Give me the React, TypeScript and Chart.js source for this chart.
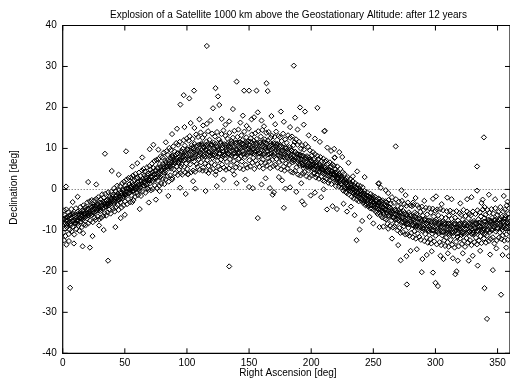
import React, { useEffect, useRef } from "react";
import { Chart, registerables } from "chart.js";
Chart.register(...registerables);

const TITLE = "Explosion of a Satellite 1000 km above the Geostationary Altitude: after 12 years";
const X_TITLE = "Right Ascension [deg]";
const Y_TITLE = "Declination [deg]";
const X_TICKS = [0, 50, 100, 150, 200, 250, 300, 350];
const Y_TICKS = [-40, -30, -20, -10, 0, 10, 20, 30, 40];

type P = [number, number];

const BAND_A: P[] = [
[0.3,-7.2],[0.6,-10.5],[1.0,-5.1],[1.4,-8.6],[1.8,-6.3],[2.2,-11.4],[2.5,-7.5],[2.9,-4.9],[3.3,-9.2],[3.7,-6.8],
[4.1,-8.9],[4.5,-5.6],[4.9,-10.9],[5.3,-7.1],[5.7,-9.8],[6.1,-6.2],[6.5,-8.4],[6.9,-4.8],[7.3,-10.2],[7.7,-7.7],
[8.1,-9.1],[8.5,-5.9],[8.9,-7.4],[9.3,-11.0],[9.7,-6.6],[10.2,-8.2],[10.6,-4.6],[11.0,-9.7],[11.4,-6.9],[11.8,-7.8],
[12.2,-5.4],[12.6,-8.9],[13.0,-6.1],[13.4,-10.1],[13.8,-7.0],[14.2,-4.3],[14.6,-7.8],[15.0,-6.0],[15.4,-9.2],[15.8,-5.2],
[16.2,-7.3],[16.6,-3.9],[17.0,-8.6],[17.4,-5.8],[17.8,-6.9],[18.2,-4.4],[18.6,-8.7],[19.0,-5.5],[19.4,-7.1],[19.8,-3.2],
[20.2,-6.4],[20.6,-8.3],[21.0,-4.8],[21.4,-5.9],[21.8,-2.9],[22.2,-7.6],[22.6,-4.1],[23.0,-6.3],[23.4,-2.6],[23.8,-5.5],
[24.2,-8.0],[24.6,-3.8],[25.0,-5.6],[25.4,-2.7],[25.8,-6.9],[26.2,-4.0],[26.6,-7.4],[27.0,-2.3],[27.4,-5.1],[27.8,-3.6],
[28.2,-6.6],[28.6,-1.9],[29.0,-4.7],[29.4,-7.3],[29.8,-3.2],[30.2,-5.3],[30.6,-2.4],[31.0,-6.9],[31.4,-3.9],[31.8,-1.2],
[32.2,-4.6],[32.6,-6.5],[33.0,-2.0],[33.4,-3.3],[33.8,-5.8],[34.2,-1.1],[34.6,-4.2],[35.0,-6.4],[35.4,-2.8],[35.8,-3.7],
[36.2,-5.6],[36.6,-0.7],[37.0,-3.4],[37.4,-4.9],[37.8,-1.9],[38.2,-3.5],[38.6,-5.9],[39.0,-0.6],[39.4,-2.4],[39.8,-4.4],
[40.2,-1.3],[40.6,-4.8],[41.0,-2.9],[41.4,0.3],[41.8,-5.4],[42.2,-2.6],[42.6,-0.4],[43.0,-4.3],[43.4,-1.6],[43.8,0.9],
[44.2,-3.8],[44.6,-1.1],[45.0,-5.0],[45.4,-0.2],[45.8,-2.5],[46.2,0.8],[46.6,-3.1],[47.0,-1.0],[47.4,-4.4],[47.8,1.5],
[48.2,-2.2],[48.6,-0.1],[49.0,-3.9],[49.4,1.9],[49.8,-1.4],[50.2,-2.9],[50.6,0.9],[51.0,-1.2],[51.4,2.4],[51.8,-3.6],
[52.2,0.2],[52.6,-2.4],[53.0,2.8],[53.4,-0.9],[53.8,1.3],[54.2,-3.1],[54.6,0.6],[55.0,2.9],[55.4,-1.5],[55.8,1.7],
[56.2,-0.4],[56.6,3.4],[57.0,-2.6],[57.4,1.0],[57.8,2.2],[58.2,-1.8],[58.6,3.8],[59.0,0.3],[59.4,2.6],[59.8,-0.8],
];

const BAND_B: P[] = [
[60.2,2.9],[60.6,-1.4],[61.0,1.2],[61.4,4.1],[61.8,-0.3],[62.2,0.4],[62.6,3.3],[63.0,-1.6],[63.4,2.0],[63.8,4.6],
[64.2,-0.5],[64.6,2.6],[65.0,5.0],[65.4,0.9],[65.8,3.4],[66.2,4.3],[66.6,-0.8],[67.0,2.7],[67.4,1.1],[67.8,5.4],
[68.2,0.3],[68.6,3.9],[69.0,-0.1],[69.4,2.2],[69.8,5.7],[70.2,1.5],[70.6,4.8],[71.0,-0.2],[71.4,3.2],[71.8,6.3],
[72.2,2.0],[72.6,0.1],[73.0,5.2],[73.4,3.6],[73.8,6.9],[74.2,1.0],[74.6,4.6],[75.0,2.6],[75.4,7.2],[75.8,0.3],
[76.2,5.3],[76.6,2.1],[77.0,7.4],[77.4,3.8],[77.8,0.9],[78.2,6.2],[78.6,3.0],[79.0,8.1],[79.4,1.4],[79.8,4.9],
[80.2,7.8],[80.6,2.6],[81.0,5.5],[81.4,9.0],[81.8,1.3],[82.2,4.1],[82.6,7.0],[83.0,2.5],[83.4,9.3],[83.8,5.9],
[84.2,3.2],[84.6,8.4],[85.0,5.6],[85.4,1.9],[85.8,10.1],[86.2,6.9],[86.6,3.4],[87.0,9.6],[87.4,5.1],[87.8,8.2],
[88.2,2.8],[88.6,7.8],[89.0,10.5],[89.4,4.9],[89.8,6.6],[90.2,9.2],[90.6,3.9],[91.0,7.0],[91.4,11.3],[91.8,5.6],
[92.2,8.8],[92.6,3.5],[93.0,10.9],[93.4,6.4],[93.8,4.8],[94.2,11.6],[94.6,7.3],[95.0,4.0],[95.4,9.4],[95.8,6.2],
[96.2,3.6],[96.6,9.9],[97.0,7.8],[97.4,12.0],[97.8,5.5],[98.2,10.7],[98.6,4.1],[99.0,8.6],[99.4,6.3],[99.8,12.4],
];

const BAND_C: P[] = [
[100.2,5.0],[100.6,9.8],[101.0,3.7],[101.4,11.9],[101.8,7.2],[102.2,13.0],[102.6,6.1],[103.0,9.4],[103.4,4.2],[103.8,10.8],
[104.2,7.6],[104.6,12.3],[105.0,4.6],[105.4,9.9],[105.8,6.8],[106.2,11.1],[106.6,4.3],[107.0,8.5],[107.4,13.4],[107.8,6.2],
[108.2,9.6],[108.6,5.5],[109.0,12.8],[109.4,7.4],[109.8,10.9],[110.2,4.8],[110.6,8.9],[111.0,13.9],[111.4,6.6],[111.8,11.2],
[112.2,7.9],[112.6,12.6],[113.0,5.3],[113.4,10.2],[113.8,8.4],[114.2,13.3],[114.6,6.4],[115.0,9.6],[115.4,4.5],[115.8,11.7],
[116.2,7.1],[116.6,10.6],[117.0,14.2],[117.4,5.7],[117.8,9.0],[118.2,12.1],[118.6,4.7],[119.0,8.3],[119.4,10.9],[119.8,6.5],
[120.2,13.6],[120.6,7.7],[121.0,5.0],[121.4,11.4],[121.8,9.3],[122.2,6.0],[122.6,12.9],[123.0,8.1],[123.4,4.4],[123.8,10.5],
[124.2,14.0],[124.6,7.0],[125.0,9.9],[125.4,5.6],[125.8,12.2],[126.2,8.6],[126.6,4.9],[127.0,11.6],[127.4,7.3],[127.8,13.5],
[128.2,6.1],[128.6,10.1],[129.0,8.0],[129.4,14.4],[129.8,5.3],[130.2,11.0],[130.6,7.6],[131.0,13.1],[131.4,4.8],[131.8,9.4],
[132.2,6.7],[132.6,12.4],[133.0,8.8],[133.4,10.6],[133.8,5.1],[134.2,13.8],[134.6,7.4],[135.0,10.3],[135.4,5.9],[135.8,11.8],
[136.2,8.2],[136.6,4.6],[137.0,12.6],[137.4,9.5],[137.8,6.9],[138.2,14.3],[138.6,8.0],[139.0,11.2],[139.4,5.4],[139.8,9.7],
[140.2,6.3],[140.6,12.8],[141.0,9.1],[141.4,14.6],[141.8,7.5],[142.2,11.5],[142.6,5.2],[143.0,10.2],[143.4,8.1],[143.8,13.2],
[144.2,6.8],[144.6,12.0],[145.0,9.3],[145.4,4.9],[145.8,11.0],[146.2,14.1],[146.6,7.9],[147.0,10.6],[147.4,6.0],[147.8,12.7],
[148.2,8.4],[148.6,5.3],[149.0,11.7],[149.4,9.8],[149.8,14.8],[150.2,7.1],[150.6,10.9],[151.0,5.6],[151.4,12.5],[151.8,8.9],
[152.2,13.4],[152.6,6.5],[153.0,10.0],[153.4,7.7],[153.8,11.9],[154.2,5.0],[154.6,9.2],[155.0,13.7],[155.4,7.0],[155.8,10.8],
[156.2,12.3],[156.6,6.2],[157.0,9.6],[157.4,14.2],[157.8,8.0],[158.2,5.5],[158.6,11.4],[159.0,8.7],[159.4,12.9],[159.8,6.6],
[160.2,10.4],[160.6,14.5],[161.0,7.3],[161.4,5.1],[161.8,11.6],[162.2,8.5],[162.6,12.2],[163.0,6.4],[163.4,10.1],[163.8,13.8],
[164.2,5.8],[164.6,9.4],[165.0,11.9],[165.4,7.6],[165.8,14.0],[166.2,6.9],[166.6,10.7],[167.0,5.2],[167.4,12.6],[167.8,8.8],
[168.2,13.1],[168.6,7.2],[169.0,9.9],[169.4,5.7],[169.8,11.3],[170.2,8.1],[170.6,12.8],[171.0,6.0],[171.4,10.5],[171.8,14.1],
[172.2,7.4],[172.6,11.1],[173.0,5.3],[173.4,9.2],[173.8,13.0],[174.2,6.7],[174.6,10.6],[175.0,12.7],[175.4,8.0],[175.8,4.9],
[176.2,11.8],[176.6,7.0],[177.0,9.5],[177.4,13.6],[177.8,5.6],[178.2,8.6],[178.6,4.6],[179.0,12.2],[179.4,10.0],[179.8,6.3],
[180.2,11.4],[180.6,7.7],[181.0,5.1],[181.4,13.2],[181.8,9.0],[182.2,6.0],[182.6,10.3],[183.0,12.6],[183.4,7.9],[183.8,4.3],
[184.2,9.5],[184.6,12.9],[185.0,6.6],[185.4,4.1],[185.8,10.8],[186.2,7.3],[186.6,11.6],[187.0,4.5],[187.4,9.1],[187.8,12.2],
[188.2,5.4],[188.6,8.6],[189.0,10.9],[189.4,3.6],[189.8,7.1],[190.2,11.6],[190.6,5.9],[191.0,8.3],[191.4,3.4],[191.8,9.9],
[192.2,6.4],[192.6,10.8],[193.0,3.9],[193.4,8.2],[193.8,5.2],[194.2,9.7],[194.6,4.3],[195.0,7.4],[195.4,11.0],[195.8,5.9],
[196.2,3.2],[196.6,8.1],[197.0,6.0],[197.4,10.4],[197.8,4.6],[198.2,7.8],[198.6,2.9],[199.0,9.5],[199.4,5.5],[199.8,6.9],
];

const BAND_D: P[] = [
[200.2,3.4],[200.6,8.3],[201.0,5.6],[201.4,9.1],[201.8,3.9],[202.2,7.2],[202.6,4.0],[203.0,8.6],[203.4,5.9],[203.8,2.9],
[204.2,6.8],[204.6,3.5],[205.0,8.2],[205.4,5.0],[205.8,7.4],[206.2,2.6],[206.6,6.1],[207.0,4.3],[207.4,7.9],[207.8,5.4],
[208.2,3.1],[208.6,6.9],[209.0,4.9],[209.4,2.2],[209.8,7.5],[210.2,5.6],[210.6,2.0],[211.0,6.8],[211.4,3.9],[211.8,4.8],
[212.2,7.0],[212.6,2.5],[213.0,4.6],[213.4,6.3],[213.8,1.6],[214.2,4.9],[214.6,2.2],[215.0,6.6],[215.4,3.4],[215.8,5.5],
[216.2,1.3],[216.6,4.4],[217.0,6.1],[217.4,2.8],[217.8,3.9],[218.2,5.8],[218.6,1.9],[219.0,3.6],[219.4,5.0],[219.8,0.8],
[220.2,4.2],[220.6,1.7],[221.0,5.6],[221.4,2.6],[221.8,3.5],[222.2,0.7],[222.6,3.8],[223.0,2.0],[223.4,5.0],[223.8,1.3],
[224.2,3.2],[224.6,0.4],[225.0,2.6],[225.4,4.2],[225.8,-0.3],[226.2,2.1],[226.6,3.8],[227.0,0.2],[227.4,1.6],[227.8,-0.6],
[228.2,2.7],[228.6,-0.9],[229.0,1.3],[229.4,3.0],[229.8,0.0],[230.2,-1.2],[230.6,1.8],[231.0,0.3],[231.4,2.5],[231.8,-0.5],
[232.2,1.4],[232.6,-1.8],[233.0,0.4],[233.4,2.0],[233.8,-0.9],[234.2,-2.2],[234.6,0.9],[235.0,-0.6],[235.4,1.5],[235.8,-1.4],
[236.2,0.4],[236.6,-2.5],[237.0,-0.9],[237.4,1.1],[237.8,-1.7],[238.2,-2.9],[238.6,0.2],[239.0,-1.3],[239.4,0.8],[239.8,-2.2],
[240.2,-0.3],[240.6,-2.8],[241.0,-1.2],[241.4,0.5],[241.8,-3.3],[242.2,-1.0],[242.6,-3.1],[243.0,-0.4],[243.4,-2.3],[243.8,-3.9],
[244.2,-1.4],[244.6,-3.6],[245.0,-0.7],[245.4,-2.7],[245.8,-4.1],[246.2,-1.6],[246.6,-3.9],[247.0,-2.2],[247.4,-4.6],[247.8,-1.1],
[248.2,-3.8],[248.6,-2.0],[249.0,-4.7],[249.4,-1.5],[249.8,-3.2],[250.2,-2.1],[250.6,-5.0],[251.0,-3.3],[251.4,-1.8],[251.8,-4.4],
[252.2,-5.5],[252.6,-2.6],[253.0,-4.1],[253.4,-6.0],[253.8,-2.2],[254.2,-3.3],[254.6,-5.7],[255.0,-2.4],[255.4,-4.8],[255.8,-6.3],
[256.2,-3.0],[256.6,-5.2],[257.0,-6.8],[257.4,-2.7],[257.8,-4.5],[258.2,-6.0],[258.6,-3.4],[259.0,-7.1],[259.4,-4.9],[259.8,-2.9],
];

const BAND_E: P[] = [
[260.2,-7.3],[260.6,-3.1],[261.0,-5.6],[261.4,-8.4],[261.8,-4.2],[262.2,-2.6],[262.6,-6.5],[263.0,-4.4],[263.4,-8.9],[263.8,-5.8],
[264.2,-3.5],[264.6,-7.6],[265.0,-1.9],[265.4,-5.2],[265.8,-9.3],[266.2,-6.8],[266.6,-3.3],[267.0,-9.0],[267.4,-5.0],[267.8,-7.4],
[268.2,-2.4],[268.6,-8.3],[269.0,-5.7],[269.4,-10.0],[269.8,-4.1],[270.2,-7.0],[270.6,-3.0],[271.0,-9.4],[271.4,-5.8],[271.8,-10.6],
[272.2,-4.4],[272.6,-8.1],[273.0,-2.8],[273.4,-6.9],[273.8,-10.4],[274.2,-5.3],[274.6,-9.0],[275.0,-3.6],[275.4,-7.6],[275.8,-11.0],
[276.2,-8.5],[276.6,-4.0],[277.0,-6.3],[277.4,-10.9],[277.8,-3.2],[278.2,-9.4],[278.6,-5.6],[279.0,-11.3],[279.4,-7.8],[279.8,-3.9],
[280.2,-6.4],[280.6,-10.6],[281.0,-4.1],[281.4,-8.7],[281.8,-11.7],[282.2,-3.8],[282.6,-7.3],[283.0,-10.2],[283.4,-5.6],[283.8,-9.1],
[284.2,-12.0],[284.6,-6.0],[285.0,-8.8],[285.4,-3.9],[285.8,-10.8],[286.2,-7.1],[286.6,-4.4],[287.0,-11.6],[287.4,-9.0],[287.8,-5.5],
[288.2,-12.3],[288.6,-7.7],[289.0,-4.2],[289.4,-10.1],[289.8,-6.4],[290.2,-9.4],[290.6,-5.0],[291.0,-12.6],[291.4,-7.2],[291.8,-10.9],
[292.2,-4.5],[292.6,-8.3],[293.0,-11.8],[293.4,-6.1],[293.8,-13.0],[294.2,-7.6],[294.6,-10.2],[295.0,-4.6],[295.4,-9.3],[295.8,-12.1],
[296.2,-5.7],[296.6,-13.2],[297.0,-8.0],[297.4,-10.8],[297.8,-4.7],[298.2,-9.9],[298.6,-6.6],[299.0,-12.7],[299.4,-8.2],[299.8,-5.2],
[300.2,-11.3],[300.6,-7.4],[301.0,-13.4],[301.4,-4.9],[301.8,-9.6],[302.2,-6.3],[302.6,-10.7],[303.0,-8.5],[303.4,-12.9],[303.8,-4.8],
[304.2,-9.1],[304.6,-13.6],[305.0,-6.8],[305.4,-11.2],[305.8,-7.9],[306.2,-5.1],[306.6,-10.3],[307.0,-12.4],[307.4,-8.6],[307.8,-13.8],
[308.2,-7.0],[308.6,-11.8],[309.0,-5.3],[309.4,-9.9],[309.8,-12.9],[310.2,-8.3],[310.6,-14.0],[311.0,-6.4],[311.4,-10.9],[311.8,-5.2],
[312.2,-12.3],[312.6,-9.0],[313.0,-7.2],[313.4,-13.5],[313.8,-10.2],[314.2,-5.6],[314.6,-11.4],[315.0,-8.5],[315.4,-14.2],[315.8,-6.9],
[316.2,-10.0],[316.6,-12.8],[317.0,-5.3],[317.4,-9.3],[317.8,-11.6],[318.2,-7.6],[318.6,-13.9],[319.0,-9.7],[319.4,-5.8],[319.8,-12.0],
[320.2,-8.9],[320.6,-6.2],[321.0,-11.1],[321.4,-13.3],[321.8,-7.4],[322.2,-10.4],[322.6,-5.0],[323.0,-12.6],[323.4,-8.1],[323.8,-14.0],
[324.2,-6.5],[324.6,-9.8],[325.0,-11.9],[325.4,-5.4],[325.8,-8.8],[326.2,-13.0],[326.6,-7.1],[327.0,-10.3],[327.4,-5.9],[327.8,-12.4],
[328.2,-9.2],[328.6,-6.3],[329.0,-13.6],[329.4,-8.0],[329.8,-11.0],[330.2,-5.4],[330.6,-10.7],[331.0,-7.7],[331.4,-12.9],[331.8,-9.5],
[332.2,-6.0],[332.6,-11.8],[333.0,-8.4],[333.4,-13.4],[333.8,-5.1],[334.2,-10.1],[334.6,-7.3],[335.0,-12.5],[335.4,-9.0],[335.8,-5.6],
[336.2,-11.4],[336.6,-6.6],[337.0,-13.1],[337.4,-8.3],[337.8,-10.6],[338.2,-4.9],[338.6,-9.7],[339.0,-12.0],[339.4,-7.0],[339.8,-10.9],
[340.2,-6.2],[340.6,-13.0],[341.0,-8.5],[341.4,-11.3],[341.8,-5.0],[342.2,-9.9],[342.6,-7.4],[343.0,-12.6],[343.4,-5.7],[343.8,-10.4],
[344.2,-8.0],[344.6,-12.1],[345.0,-4.8],[345.4,-10.0],[345.8,-6.9],[346.2,-11.7],[346.6,-5.9],[347.0,-9.1],[347.4,-13.2],[347.8,-7.5],
[348.2,-4.6],[348.6,-10.3],[349.0,-8.0],[349.4,-12.4],[349.8,-6.2],[350.2,-9.4],[350.6,-5.5],[351.0,-11.8],[351.4,-7.5],[351.8,-10.5],
[352.2,-4.3],[352.6,-8.8],[353.0,-12.1],[353.4,-6.7],[353.8,-9.9],[354.2,-11.2],[354.6,-5.4],[355.0,-7.9],[355.4,-12.5],[355.8,-4.9],
[356.2,-9.6],[356.6,-6.5],[357.0,-11.0],[357.4,-3.9],[357.8,-8.2],[358.2,-12.3],[358.6,-6.0],[359.0,-9.3],[359.4,-4.6],[359.8,-10.4],
];

const CORE_A: P[] = [
[0.5,-8.9],[1.2,-7.3],[1.9,-8.2],[2.4,-6.9],[3.1,-8.7],[3.8,-7.6],[4.3,-8.3],[5.0,-6.5],[5.6,-7.9],[6.3,-8.8],
[7.0,-7.0],[7.6,-6.1],[8.3,-7.8],[9.0,-6.3],[9.6,-8.3],[10.4,-6.1],[11.1,-7.6],[11.7,-8.4],[12.4,-7.4],[13.1,-5.8],
[13.7,-6.9],[14.4,-5.5],[15.1,-7.2],[15.7,-6.6],[16.4,-6.8],[17.1,-5.3],[17.7,-6.0],[18.4,-6.6],[19.1,-4.9],[19.7,-5.9],
[20.4,-4.7],[21.1,-6.3],[21.7,-5.4],[22.4,-5.9],[23.1,-4.4],[23.7,-5.0],[24.4,-4.2],[25.1,-5.7],[25.7,-4.7],[26.4,-5.4],
[27.1,-3.9],[27.7,-4.8],[28.4,-3.6],[29.1,-5.1],[29.7,-4.2],[30.4,-4.8],[31.1,-3.3],[31.7,-4.1],[32.4,-3.0],[33.1,-4.5],
[33.7,-3.6],[34.4,-4.1],[35.1,-2.7],[35.7,-3.5],[36.4,-2.4],[37.1,-3.9],[37.7,-3.0],[38.4,-3.6],[39.1,-2.1],[39.7,-2.9],
[40.4,-1.8],[41.1,-3.3],[41.7,-2.4],[42.4,-2.9],[43.1,-1.4],[43.7,-2.2],[44.4,-1.0],[45.1,-2.5],[45.7,-1.6],[46.4,-2.1],
[47.1,-0.6],[47.7,-1.4],[48.4,-0.2],[49.1,-1.7],[49.7,-0.8],[50.4,-1.3],[51.1,0.2],[51.7,-0.6],[52.4,0.5],[53.1,-1.0],
[53.7,-0.1],[54.4,-0.7],[55.1,0.8],[55.7,0.2],[56.4,1.1],[57.1,-0.4],[57.7,0.5],[58.4,-0.1],[59.1,1.4],[59.7,0.6],
];

const CORE_B: P[] = [
[60.4,1.8],[61.1,0.2],[61.7,1.1],[62.4,0.6],[63.1,2.2],[63.7,1.3],[64.4,2.6],[65.1,1.0],[65.7,1.9],[66.4,1.4],
[67.1,3.0],[67.7,2.1],[68.4,3.4],[69.1,1.8],[69.7,2.7],[70.4,2.2],[71.1,3.9],[71.7,3.0],[72.4,4.3],[73.1,2.5],
[73.7,3.5],[74.4,2.9],[75.1,4.7],[75.7,3.7],[76.4,5.1],[77.1,3.3],[77.7,4.3],[78.4,3.7],[79.1,5.5],[79.7,4.5],
[80.4,6.1],[81.1,4.1],[81.7,5.2],[82.4,4.6],[83.1,6.6],[83.7,5.5],[84.4,7.1],[85.1,5.1],[85.7,6.2],[86.4,5.6],
[87.1,7.6],[87.7,6.5],[88.4,8.1],[89.1,6.1],[89.7,7.2],[90.4,6.4],[91.1,8.5],[91.7,7.6],[92.4,8.8],[93.1,6.7],
[93.7,7.8],[94.4,6.9],[95.1,9.0],[95.7,7.8],[96.4,9.2],[97.1,7.1],[97.7,8.2],[98.4,7.3],[99.1,9.4],[99.7,8.4],
];

const CORE_C: P[] = [
[100.4,9.7],[101.1,7.3],[101.7,8.6],[102.4,7.5],[103.1,10.0],[103.7,8.8],[104.4,10.2],[105.1,7.6],[105.7,9.0],[106.4,7.9],
[107.1,10.5],[107.7,9.2],[108.4,10.7],[109.1,8.1],[109.7,9.4],[110.4,8.3],[111.1,10.9],[111.7,9.6],[112.4,10.8],[113.1,8.2],
[113.7,9.4],[114.4,8.0],[115.1,10.6],[115.7,9.7],[116.4,11.0],[117.1,8.4],[117.7,9.3],[118.4,8.1],[119.1,10.7],[119.7,9.5],
[120.4,10.9],[121.1,8.3],[121.7,9.8],[122.4,8.6],[123.1,11.1],[123.7,9.4],[124.4,10.4],[125.1,8.0],[125.7,9.6],[126.4,8.8],
[127.1,11.2],[127.7,9.9],[128.4,10.8],[129.1,8.5],[129.7,9.3],[130.4,8.4],[131.1,10.9],[131.7,9.7],[132.4,11.1],[133.1,8.6],
[133.7,9.8],[134.4,8.5],[135.1,11.2],[135.7,10.0],[136.4,11.3],[137.1,8.7],[137.7,10.1],[138.4,8.8],[139.1,11.4],[139.7,9.9],
[140.4,11.4],[141.1,8.8],[141.7,10.2],[142.4,8.9],[143.1,11.5],[143.7,10.0],[144.4,11.2],[145.1,8.6],[145.7,10.3],[146.4,8.7],
[147.1,11.5],[147.7,9.9],[148.4,11.3],[149.1,8.9],[149.7,10.1],[150.4,9.0],[151.1,11.6],[151.7,10.2],[152.4,11.4],[153.1,8.8],
[153.7,9.9],[154.4,8.6],[155.1,11.2],[155.7,10.1],[156.4,11.3],[157.1,8.7],[157.7,10.0],[158.4,8.9],[159.1,11.5],[159.7,9.8],
[160.4,11.1],[161.1,8.6],[161.7,10.2],[162.4,8.8],[163.1,11.4],[163.7,9.9],[164.4,11.2],[165.1,8.5],[165.7,10.1],[166.4,8.7],
[167.1,11.3],[167.7,9.7],[168.4,11.0],[169.1,8.4],[169.7,10.0],[170.4,8.6],[171.1,11.2],[171.7,9.8],[172.4,10.9],[173.1,8.3],
[173.7,9.6],[174.4,8.2],[175.1,10.8],[175.7,9.4],[176.4,10.5],[177.1,8.0],[177.7,9.2],[178.4,7.8],[179.1,10.3],[179.7,9.0],
[180.4,10.1],[181.1,7.6],[181.7,8.8],[182.4,7.4],[183.1,9.8],[183.7,8.5],[184.4,9.5],[185.1,7.1],[185.7,8.2],[186.4,6.9],
[187.1,9.2],[187.7,7.9],[188.4,8.8],[189.1,6.6],[189.7,7.6],[190.4,6.3],[191.1,8.5],[191.7,7.3],[192.4,8.2],[193.1,6.0],
[193.7,7.0],[194.4,5.8],[195.1,7.9],[195.7,6.7],[196.4,7.6],[197.1,5.5],[197.7,6.4],[198.4,5.2],[199.1,7.3],[199.7,6.1],
];

const CORE_D: P[] = [
[200.4,6.9],[201.1,5.2],[201.7,6.0],[202.4,4.9],[203.1,6.5],[203.7,5.6],[204.4,6.2],[205.1,4.6],[205.7,5.4],[206.4,4.3],
[207.1,5.9],[207.7,5.0],[208.4,5.6],[209.1,4.0],[209.7,4.8],[210.4,3.7],[211.1,5.3],[211.7,4.4],[212.4,5.0],[213.1,3.4],
[213.7,4.2],[214.4,3.1],[215.1,4.7],[215.7,3.8],[216.4,4.4],[217.1,2.8],[217.7,3.6],[218.4,2.5],[219.1,4.1],[219.7,3.2],
[220.4,3.8],[221.1,2.2],[221.7,2.9],[222.4,1.7],[223.1,3.3],[223.7,2.4],[224.4,2.8],[225.1,1.2],[225.7,1.9],[226.4,0.7],
[227.1,2.3],[227.7,1.4],[228.4,1.8],[229.1,0.2],[229.7,0.9],[230.4,-0.3],[231.1,1.3],[231.7,0.4],[232.4,0.9],[233.1,-0.7],
[233.7,0.0],[234.4,-1.1],[235.1,0.5],[235.7,-0.4],[236.4,0.1],[237.1,-1.5],[237.7,-0.8],[238.4,-1.9],[239.1,-0.3],[239.7,-1.2],
[240.4,-0.7],[241.1,-2.3],[241.7,-1.6],[242.4,-2.7],[243.1,-1.1],[243.7,-2.0],[244.4,-1.5],[245.1,-3.1],[245.7,-2.4],[246.4,-3.5],
[247.1,-1.9],[247.7,-2.8],[248.4,-2.3],[249.1,-3.9],[249.7,-3.2],[250.4,-4.3],[251.1,-2.7],[251.7,-3.6],[252.4,-3.0],[253.1,-4.6],
[253.7,-3.9],[254.4,-4.9],[255.1,-3.3],[255.7,-4.2],[256.4,-3.6],[257.1,-5.2],[257.7,-4.5],[258.4,-5.5],[259.1,-3.9],[259.7,-4.8],
];

const CORE_E: P[] = [
[260.4,-4.1],[261.1,-6.0],[261.7,-5.1],[262.4,-6.3],[263.1,-4.4],[263.7,-5.4],[264.4,-4.7],[265.1,-6.7],[265.7,-5.7],[266.4,-7.0],
[267.1,-5.0],[267.7,-6.0],[268.4,-5.2],[269.1,-7.3],[269.7,-6.3],[270.4,-7.6],[271.1,-5.5],[271.7,-6.6],[272.4,-5.6],[273.1,-7.9],
[273.7,-6.8],[274.4,-8.1],[275.1,-5.8],[275.7,-7.0],[276.4,-6.0],[277.1,-8.3],[277.7,-7.2],[278.4,-8.5],[279.1,-6.2],[279.7,-7.4],
[280.4,-6.4],[281.1,-8.7],[281.7,-7.6],[282.4,-8.9],[283.1,-6.6],[283.7,-7.8],[284.4,-6.8],[285.1,-9.1],[285.7,-8.0],[286.4,-9.3],
[287.1,-7.0],[287.7,-8.2],[288.4,-7.2],[289.1,-9.5],[289.7,-8.4],[290.4,-9.7],[291.1,-7.4],[291.7,-8.6],[292.4,-7.5],[293.1,-9.8],
[293.7,-8.7],[294.4,-9.9],[295.1,-7.6],[295.7,-8.8],[296.4,-7.7],[297.1,-10.0],[297.7,-8.9],[298.4,-10.1],[299.1,-7.8],[299.7,-9.0],
[300.4,-7.9],[301.1,-10.2],[301.7,-9.1],[302.4,-10.3],[303.1,-8.0],[303.7,-9.2],[304.4,-8.1],[305.1,-10.4],[305.7,-9.3],[306.4,-10.5],
[307.1,-8.2],[307.7,-9.4],[308.4,-8.3],[309.1,-10.6],[309.7,-9.5],[310.4,-10.7],[311.1,-8.4],[311.7,-9.6],[312.4,-8.4],[313.1,-10.7],
[313.7,-9.5],[314.4,-10.6],[315.1,-8.3],[315.7,-9.4],[316.4,-8.5],[317.1,-10.8],[317.7,-9.6],[318.4,-10.7],[319.1,-8.4],[319.7,-9.5],
[320.4,-8.3],[321.1,-10.6],[321.7,-9.4],[322.4,-10.8],[323.1,-8.5],[323.7,-9.6],[324.4,-8.4],[325.1,-10.7],[325.7,-9.5],[326.4,-10.6],
[327.1,-8.3],[327.7,-9.4],[328.4,-8.5],[329.1,-10.8],[329.7,-9.6],[330.4,-10.5],[331.1,-8.2],[331.7,-9.3],[332.4,-8.2],[333.1,-10.4],
[333.7,-9.2],[334.4,-10.3],[335.1,-8.1],[335.7,-9.1],[336.4,-8.0],[337.1,-10.2],[337.7,-9.0],[338.4,-10.1],[339.1,-7.9],[339.7,-8.9],
[340.4,-7.8],[341.1,-10.0],[341.7,-8.8],[342.4,-9.9],[343.1,-7.7],[343.7,-8.7],[344.4,-7.6],[345.1,-9.8],[345.7,-8.6],[346.4,-9.7],
[347.1,-7.5],[347.7,-8.5],[348.4,-7.4],[349.1,-9.6],[349.7,-8.4],[350.4,-9.5],[351.1,-7.3],[351.7,-8.3],[352.4,-7.2],[353.1,-9.4],
[353.7,-8.2],[354.4,-9.3],[355.1,-7.1],[355.7,-8.1],[356.4,-7.0],[357.1,-9.2],[357.7,-8.0],[358.4,-9.1],[359.1,-6.9],[359.7,-7.9],
];

const NEAR_SCATTER: P[] = [
[88,13.5],[92,14.8],[103,16.2],[110,17.1],[113,15.6],[119,16.8],[128,17.2],[131,15.8],[134,16.6],[143,16.3],
[148,15.5],[152,17.1],[160,16.8],[162,15.4],[168,17.9],[171,15.9],[178,16.5],[183,15.2],[189,14.6],[194,15.8],
[198,13.2],[203,12.4],[207,11.6],[213,10.2],[216,9.4],[225,7.9],[230,6.5],[237,4.4],[243,3.0],[60,6.4],
[64,7.8],[56,5.6],[73,10.9],[45,3.6],[27,1.2],[12,-1.8],[8,-3.1],[3,-13.5],[9,-13.2],[5,-12.6],
[1,-12.4],[24,-11.4],[33,-9.9],[50,-6.2],[62,-4.8],[75,-2.5],[85,-1.6],[99,-1.1],[115,-0.4],[124,0.8],
[140,1.5],[147,2.4],[160,1.2],[183,0.5],[188,-0.6],[203,-0.8],[208,-1.9],[226,-3.5],[232,-4.2],[250,-8.3],
[258,-9.1],[265,-12.0],[270,-13.6],[280,-15.0],[285,-14.6],[293,-16.0],[297,-15.1],[304,-16.2],[310,-15.6],[314,-16.8],
[322,-15.6],[330,-16.2],[336,-15.0],[344,-15.9],[349,-14.4],[354,-16.0],[357,-14.2],[262,-0.9],[276,-1.4],[282,-3.2],
[291,-2.8],[305,-3.6],[320,-3.4],[329,-1.9],[343,-1.3],[348,-2.4],[355,-1.6],[358,-3.0],
];

const OUTLIERS: P[] = [
[2.7,0.7],[6,-24],[16,-13.9],[21.9,-14.2],[36.5,-17.4],[20.5,1.8],[116,35],[97.4,23],[105.7,24.1],[101.9,22.2],
[94.7,20.7],[51,9.3],[34,8.7],[39.5,4.5],[70,9.8],[77,9.7],[83,11.5],[98,15.2],[106,15],[116,16],
[186,30.2],[140,26.3],[164,25.9],[146,24.1],[150,24.1],[156,24.1],[165,24],[123,24.7],[125,22.7],[121,19.8],
[126,20.6],[137,19.6],[157,18.8],[175.6,19],[191,20],[195,19],[205,19.9],[211,14.3],[187,17.5],[154,17.6],
[145,18],[150,0.6],[153,0.3],[129.4,2.4],[219,7.8],[218.5,9.9],[222.6,9.1],[233.6,3.2],[157,-7],[134,-18.8],
[178,-4.5],[192.6,-2.9],[194.5,-3.7],[199.6,-1.5],[169,-1.3],[212.7,-4.9],[217.2,-4.1],[220.7,-4.8],[228.8,-5.4],[234.9,-6.3],
[236.5,-12.4],[238.9,-9.8],[241,-7.7],[192,1.5],[179.3,0.2],[166.8,0.3],[170,-0.7],[268,10.5],[339,12.7],[333.5,5.6],
[333.5,-0.3],[341.5,-31.6],[352.8,-25.7],[339.5,-24.1],[277,-23.2],[300,-22.8],[302,-23.6],[289,-20.2],[298,-20.3],[316,-20.7],
[317,-20],[346.2,-19.7],[272,-17.3],[276.7,-16.3],[334,-18.6],[306.5,-17],[318,-17.4],[326.8,-17.4],[289.5,-17],[359,-16.3],
[272.7,-0.2],[284,-2.1],[298,-2.3],[300.5,-1.7],[309.5,-2],[313,-2.4],[325.5,-2.4],[338,-2.5],[339.5,-4.3],[337,-3.3],
[254,1.4],[256,0.4],[260,-0.2],[42.4,-9.2],[46.7,-7],[69.3,-3.2],[56,-3.1],[29.3,-8.8],[16.5,-10.7],[78,-0.4],
[94.5,0.4],[106.7,0.2],[105,2],[138,3.6],[123,3.6],[117.4,4],[163.3,2.7],[174,3],[95,5.6],[88,2.4],
[100.6,3.7],[112.6,4.6],[176.6,2.2],[210.5,14.2],[247,-6.7],[255,-9.2],[262,-9.6],[218.8,7.7],[254.6,1.5],[210,0],
];

const FONT = '10px "Liberation Sans", Arial, Helvetica, sans-serif';

export default function App() {
  const ref = useRef<HTMLCanvasElement | null>(null);

  useEffect(() => {
    document.body.style.margin = "0";
    const canvas = ref.current;
    if (!canvas) return;
    const points = [
      ...BAND_A, ...BAND_B, ...BAND_C, ...BAND_D, ...BAND_E,
      ...CORE_A, ...CORE_B, ...CORE_C, ...CORE_D, ...CORE_E,
      ...NEAR_SCATTER, ...OUTLIERS,
    ].map(([x, y]) => ({ x, y }));

    const frame = {
      id: "gnuplotFrame",
      beforeDatasetsDraw(chart: any) {
        const { ctx, chartArea } = chart;
        const y0 = Math.round(chart.scales.y.getPixelForValue(0)) + 0.5;
        ctx.save();
        ctx.strokeStyle = "#555";
        ctx.lineWidth = 1;
        ctx.setLineDash([1, 2]);
        ctx.beginPath();
        ctx.moveTo(chartArea.left, y0);
        ctx.lineTo(chartArea.right, y0);
        ctx.stroke();
        ctx.restore();
      },
      afterDraw(chart: any) {
        const { ctx, chartArea } = chart;
        const { left, right, top, bottom } = chartArea;
        const xs = chart.scales.x;
        const ys = chart.scales.y;
        ctx.save();
        ctx.strokeStyle = "#000";
        ctx.lineWidth = 1.2;
        ctx.beginPath();
        ctx.rect(left, top, right - left, bottom - top);
        ctx.stroke();
        const tl = 5;
        ctx.lineWidth = 1;
        ctx.beginPath();
        for (const v of X_TICKS) {
          const px = xs.getPixelForValue(v);
          ctx.moveTo(px, bottom);
          ctx.lineTo(px, bottom - tl);
          ctx.moveTo(px, top);
          ctx.lineTo(px, top + tl);
        }
        for (const v of Y_TICKS) {
          const py = ys.getPixelForValue(v);
          ctx.moveTo(left, py);
          ctx.lineTo(left + tl, py);
          ctx.moveTo(right, py);
          ctx.lineTo(right - tl, py);
        }
        ctx.stroke();

        ctx.fillStyle = "#000";
        ctx.font = FONT;
        ctx.textAlign = "center";
        ctx.textBaseline = "middle";
        for (const v of X_TICKS) {
          ctx.fillText(String(v), xs.getPixelForValue(v), bottom + 10);
        }
        ctx.textAlign = "right";
        for (const v of Y_TICKS) {
          ctx.fillText(String(v), left - 6, ys.getPixelForValue(v));
        }
        ctx.textAlign = "center";
        ctx.fillText(X_TITLE, 288, 373);
        ctx.fillText(TITLE, 288.5, 15);
        ctx.translate(14, (top + bottom) / 2 - 2);
        ctx.rotate(-Math.PI / 2);
        ctx.fillText(Y_TITLE, 0, 0);
        ctx.restore();
      },
    };

    const chart = new Chart(canvas, {
      type: "scatter",
      data: {
        datasets: [
          {
            data: points,
            pointStyle: "rectRot",
            pointRadius: 2.6,
            borderColor: "#000",
            backgroundColor: "rgba(0,0,0,0)",
            borderWidth: 1,
          },
        ],
      },
      options: {
        animation: false,
        responsive: false,
        events: [],
        layout: { padding: { left: 62.7, top: 25.5, right: 2.7, bottom: 29.7 } },
        scales: {
          x: { type: "linear", min: 0, max: 360, display: false },
          y: { type: "linear", min: -40, max: 40, display: false },
        },
        plugins: { legend: { display: false }, tooltip: { enabled: false }, title: { display: false } },
      },
      plugins: [frame],
    });
    return () => chart.destroy();
  }, []);

  return (
    <div style={{ width: 510, height: 383, overflow: "hidden", background: "#fff" }}>
      <canvas ref={ref} width={515} height={383} style={{ display: "block" }} />
    </div>
  );
}
